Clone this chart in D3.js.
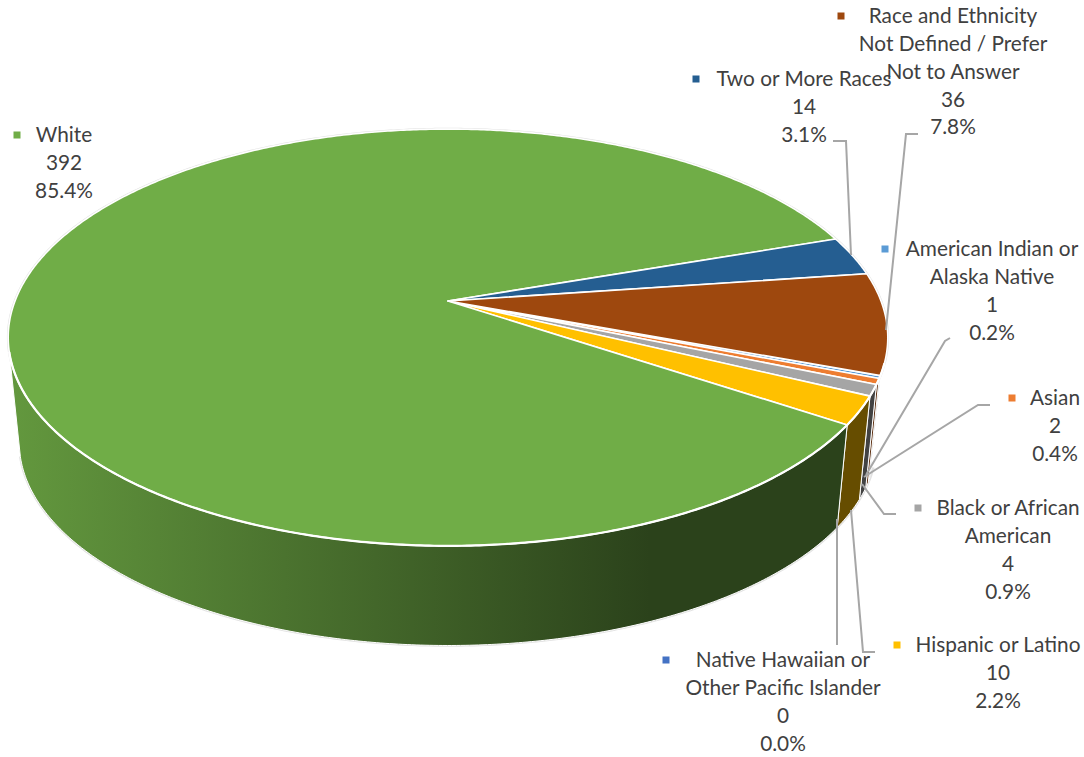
<!DOCTYPE html>
<html><head><meta charset="utf-8">
<script src="https://cdn.jsdelivr.net/npm/d3@7"></script>
<style>html,body{margin:0;padding:0;background:#fff}svg{display:block}</style>
</head><body><svg id="c" width="1084" height="757"></svg>
<script>
// Data (in original sheet order; pie starts at the first slice)
const categories = ["American Indian or Alaska Native","Asian","Black or African American","Hispanic or Latino","Native Hawaiian or Other Pacific Islander","White","Two or More Races","Race and Ethnicity Not Defined / Prefer Not to Answer"];
const counts = [1,2,4,10,0,392,14,36];
const percents = ["0.2%","0.4%","0.9%","2.2%","0.0%","85.4%","3.1%","7.8%"];
const colors = ["#5B9BD5","#ED7D31","#A5A5A5","#FFC000","#4472C4","#70AD47","#255E91","#9E480E"];

// Label layout, one entry per category: wrapped name, centre x, first baseline centre, marker, leader path
const labelLines = [
  ["American Indian or","Alaska Native"],["Asian"],["Black or African","American"],["Hispanic or Latino"],
  ["Native Hawaiian or","Other Pacific Islander"],["White"],["Two or More Races"],["Race and Ethnicity","Not Defined / Prefer","Not to Answer"]];
const labelX = [992,1055,1008,998,783,64,804,953];
const labelY = [249,398,508,645,660,135,79,16];
const markerX = [885,1012,918,897,666,17,696,841];
const leaders = [
  [[950,338],[945,341],[866,475]],
  [[990,405],[978,405],[864,477]],
  [[896,514],[884,514],[862,484]],
  [[875,652],[863,652],[851,510]],
  [[837,645],[837,519]],
  null,
  [[833,141],[846,141],[851,255]],
  [[918,134],[906,134],[886,330]]];

const svg = d3.select("#c");
const cx = 448, cy = 301, A = 433, B = 202, p = 0.175;
const vpY = 4500, depthScale = 0.9748;
const top3 = a => { const u = Math.sin(a), v = -Math.cos(a), w = 1 - p*v; return [cx + A*u/w, cy + B*v/w]; };
const bot3 = a => { const [x,y] = top3(a); return [cx + depthScale*(x-cx), vpY + depthScale*(y-vpY)]; };
const line = d3.line();
const rad = d => d*Math.PI/180;
const arcPts = (f,a0,a1) => { const n = Math.max(2,Math.ceil(Math.abs(a1-a0)/rad(0.5))); return d3.range(n+1).map(i => f(a0+(a1-a0)*i/n)); };

const pie = d3.pie().sort(null).value(d=>d).startAngle(rad(110.3)).endAngle(rad(110.3+360));
const arcs = pie(counts);

const shade = (c,k) => { const r = d3.rgb(c); return d3.rgb(r.r*k,r.g*k,r.b*k).formatHex(); };

const defs = svg.append("defs");
const g = defs.append("linearGradient").attr("id","wallWhite").attr("gradientUnits","userSpaceOnUse")
  .attr("x1",10).attr("x2",650).attr("y1",0).attr("y2",0);
g.append("stop").attr("offset",0).attr("stop-color",shade(colors[5],0.88));
g.append("stop").attr("offset",1).attr("stop-color",shade(colors[5],0.38));

// visible wall limits (pie angle from 12 o'clock)
const wallMin = rad(90+17), wallMax = rad(90+166);

// faint outer halo
const hull = arcPts(top3,0,2*Math.PI);
svg.append("path").attr("d",line(hull)+"Z").attr("fill","none").attr("stroke","#e2e2e2").attr("stroke-width",2.6);
svg.append("path").attr("d",line(arcPts(bot3,wallMin,wallMax))).attr("fill","none").attr("stroke","#e2e2e2").attr("stroke-width",2.6);

// walls
arcs.forEach((d,i) => {
  if (d.value === 0) return;
  const a0 = Math.max(d.startAngle,wallMin), a1 = Math.min(d.endAngle,wallMax);
  if (a1 <= a0) return;
  const pts = arcPts(top3,a0,a1).concat(arcPts(bot3,a1,a0));
  svg.append("path").attr("d",line(pts)+"Z")
    .attr("fill", i===5 ? "url(#wallWhite)" : shade(colors[i],0.4))
    .attr("stroke","#fff").attr("stroke-width",1).attr("stroke-linejoin","round");
});

// top faces
arcs.forEach((d,i) => {
  if (d.value === 0) return;
  const pts = [[cx,cy]].concat(arcPts(top3,d.startAngle,d.endAngle));
  svg.append("path").attr("d",line(pts)+"Z").attr("fill",colors[i])
    .attr("stroke","#fff").attr("stroke-width",1.6).attr("stroke-linejoin","round");
});
// stronger white rim where the top meets the wall
svg.append("path").attr("d",line(arcPts(top3,wallMin,wallMax))).attr("fill","none").attr("stroke","#fff").attr("stroke-width",2.2);

// leaders
leaders.forEach(l => { if (l) svg.append("path").attr("d",line(l)).attr("fill","none").attr("stroke","#A6A6A6").attr("stroke-width",2); });

// labels
categories.forEach((c,i) => {
  const rows = labelLines[i].concat([String(counts[i]),percents[i]]);
  const t = svg.append("text").attr("text-anchor","middle").attr("fill","#404040")
    .style("font-family","Lato, 'Noto Sans', sans-serif").style("font-size","20.8px");
  rows.forEach((r,k) => t.append("tspan").attr("x",labelX[i]).attr("y",labelY[i]+k*27.8).attr("dy","0.35em").text(r));
  svg.append("rect").attr("x",markerX[i]-3.5).attr("y",labelY[i]-3.5).attr("width",7).attr("height",7).attr("fill",colors[i]);
});
</script></body></html>
